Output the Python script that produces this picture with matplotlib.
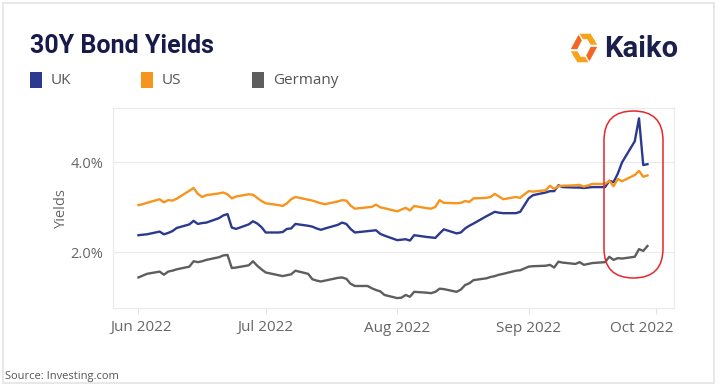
import matplotlib
matplotlib.use("Agg")
import matplotlib.pyplot as plt
import matplotlib.dates as mdates
from matplotlib.patches import FancyBboxPatch, Rectangle, Polygon
from matplotlib.transforms import IdentityTransform, ScaledTranslation
import numpy as np
import pandas as pd

dates = pd.bdate_range("2022-06-01", "2022-09-29")

uk = [2.38, 2.39, 2.40, 2.46, 2.40, 2.43, 2.47, 2.54, 2.62, 2.70, 2.63, 2.65, 2.66, 2.76, 2.82, 2.85,
      2.55, 2.52, 2.62, 2.69, 2.64, 2.56, 2.44,
      2.44, 2.45, 2.52, 2.53, 2.63, 2.59, 2.57, 2.53, 2.50, 2.53, 2.61, 2.66, 2.63, 2.52, 2.44,
      2.47, 2.48, 2.49, 2.41, 2.37,
      2.27, 2.28, 2.29, 2.26, 2.38, 2.34, 2.33, 2.32, 2.42, 2.51, 2.42, 2.44, 2.53, 2.59, 2.64,
      2.80, 2.85, 2.90, 2.88, 2.87, 2.87, 2.90, 3.05,
      3.20, 3.27, 3.33, 3.36, 3.36, 3.49, 3.45, 3.44, 3.44, 3.43, 3.44, 3.45, 3.45, 3.59, 3.56,
      3.75, 4.00, 4.47, 4.98, 3.94, 3.96]
us = [3.05, 3.07, 3.10, 3.18, 3.11, 3.16, 3.15, 3.19, 3.37, 3.43, 3.30, 3.23, 3.27, 3.31, 3.33, 3.29,
      3.20, 3.24, 3.29, 3.28, 3.21, 3.14, 3.09,
      3.05, 3.03, 3.09, 3.18, 3.23, 3.17, 3.15, 3.12, 3.09, 3.07, 3.13, 3.16, 3.15, 3.04, 2.97,
      3.00, 3.01, 3.06, 3.00, 2.98,
      2.91, 2.95, 2.99, 2.93, 3.03, 2.98, 2.97, 3.01, 3.16, 3.10, 3.09, 3.10, 3.14, 3.12, 3.20,
      3.21, 3.23, 3.30, 3.24, 3.18, 3.23, 3.21, 3.29,
      3.36, 3.35, 3.38, 3.48, 3.41, 3.47, 3.48, 3.49, 3.50, 3.46, 3.49, 3.52, 3.52, 3.59, 3.47,
      3.63, 3.58, 3.72, 3.81, 3.68, 3.71]
de = [1.44, 1.48, 1.52, 1.57, 1.50, 1.57, 1.59, 1.62, 1.68, 1.80, 1.78, 1.80, 1.83, 1.89, 1.93, 1.94,
      1.65, 1.66, 1.71, 1.80, 1.70, 1.62, 1.55,
      1.49, 1.47, 1.49, 1.51, 1.59, 1.52, 1.40, 1.37, 1.35, 1.37, 1.43, 1.44, 1.41, 1.30, 1.25,
      1.25, 1.20, 1.16, 1.13, 1.05,
      0.98, 0.99, 1.05, 1.01, 1.12, 1.10, 1.09, 1.12, 1.19, 1.18, 1.12, 1.17, 1.27, 1.31, 1.38,
      1.42, 1.45, 1.47, 1.50, 1.52, 1.59, 1.60, 1.64,
      1.68, 1.69, 1.70, 1.72, 1.66, 1.79, 1.77, 1.74, 1.78, 1.72, 1.74, 1.76, 1.78, 1.90, 1.83,
      1.87, 1.86, 1.90, 2.07, 2.03, 2.14]

series_names = ["UK", "US", "Germany"]
series_colors = ["#2b3a8f", "#f7941d", "#5e5e5e"]
x_ticks = ["2022-06-01", "2022-07-01", "2022-08-01", "2022-09-01", "2022-10-01"]
y_ticks = [2.0, 4.0]

W, H = 720, 386
fig = plt.figure(figsize=(W / 100, H / 100), dpi=100)
fig.patch.set_facecolor("white")

# card border
fig.add_artist(Rectangle((3, 3), W - 9, H - 6, transform=IdentityTransform(),
                         facecolor="none", edgecolor="#e4e4e4", lw=1.2))

ax = fig.add_axes([113 / W, (H - 308) / H, 561 / W, 200 / H])
for vals, c in zip([uk, us, de], series_colors):
    ax.plot(dates, vals, color=c, lw=1.7, solid_joinstyle="round")

ax.set_xlim(pd.Timestamp("2022-05-26"), pd.Timestamp("2022-10-05 06:00"))
ax.set_ylim(0.76, 5.21)
ax.set_yticks(y_ticks)
ax.set_yticklabels([f"{v:.1f}%" for v in y_ticks])
ax.set_xticks(pd.to_datetime(x_ticks))
ax.xaxis.set_major_formatter(mdates.DateFormatter("%b %Y"))
ax.grid(axis="y", color="#ebebeb", lw=0.9)
ax.set_axisbelow(True)
for s in ax.spines.values():
    s.set_color("#ebebeb")
    s.set_linewidth(0.9)
ax.tick_params(axis="y", length=0, pad=7, labelsize=10.5, labelcolor="#666666")
ax.tick_params(axis="x", length=4, color="#e0e0e0", pad=5, labelsize=11, labelcolor="#666666")
for lab in ax.get_xticklabels() + ax.get_yticklabels():
    lab.set_family("Open Sans")
# last label justified inside the chart, as the original does
xl = ax.get_xticklabels()
xl[-1].set_transform(xl[-1].get_transform() + ScaledTranslation(-0.14, 0, fig.dpi_scale_trans))
xl[0].set_transform(xl[0].get_transform() + ScaledTranslation(0.03, 0, fig.dpi_scale_trans))
ax.set_ylabel("Yields", fontsize=10.5, color="#666666", family="Open Sans", labelpad=1)

# red highlight
x0, y0 = 604, H - 278
fig.add_artist(FancyBboxPatch((x0, y0), 59, 167, boxstyle="round,pad=0,rounding_size=29.5",
                              transform=IdentityTransform(), facecolor="none",
                              edgecolor="#e8262b", lw=1.1))

# title
fig.text(30 / W, 1 - 46 / H, "30Y Bond Yields", fontsize=18, fontweight="bold",
         color="#171a4a", va="center", ha="left", family="Roboto")

# legend
lx = [30, 141, 252]
for x, name, c in zip(lx, series_names, series_colors):
    fig.add_artist(Rectangle((x, H - 88), 12, 16, transform=IdentityTransform(),
                             facecolor=c, edgecolor="none"))
    fig.text((x + 21) / W, 1 - 80 / H, name, fontsize=11, color="#555555",
             va="center", ha="left", family="Open Sans")

# logo
icon_cx, icon_cy = 584, H - 48
s = 1.1
p1 = [(icon_cx + s * a, icon_cy + s * b) for a, b in [(-4, 13), (6, 13), (12, 3), (6, 3), (3, 8), (-1, 8)]]
p2 = [(icon_cx + s * a, icon_cy + s * b) for a, b in [(-12, -3), (-6, -3), (-3, -8), (1, -8), (4, -13), (-6, -13)]]
p3 = [(icon_cx + s * a, icon_cy + s * b) for a, b in [(-12, -1), (-6, -1), (-2, 7), (-5, 12)]]
p4 = [(icon_cx + s * a, icon_cy + s * b) for a, b in [(12, 1), (6, 1), (2, -7), (5, -12)]]
for p, c in zip([p1, p2, p3, p4], ["#f7a21b", "#f7a21b", "#f26522", "#f26522"]):
    fig.add_artist(Polygon(p, closed=True, transform=IdentityTransform(), facecolor=c, edgecolor="none"))
fig.text(604 / W, 1 - 49 / H, "Kaiko", fontsize=21, fontweight="bold", color="#1b1f4b",
         va="center", ha="left", family="Roboto")

# source
fig.text(5 / W, 1 - 376 / H, "Source: Investing.com", fontsize=8, color="#555555",
         va="center", ha="left", family="Open Sans")

fig.savefig("out.png", dpi=100)
